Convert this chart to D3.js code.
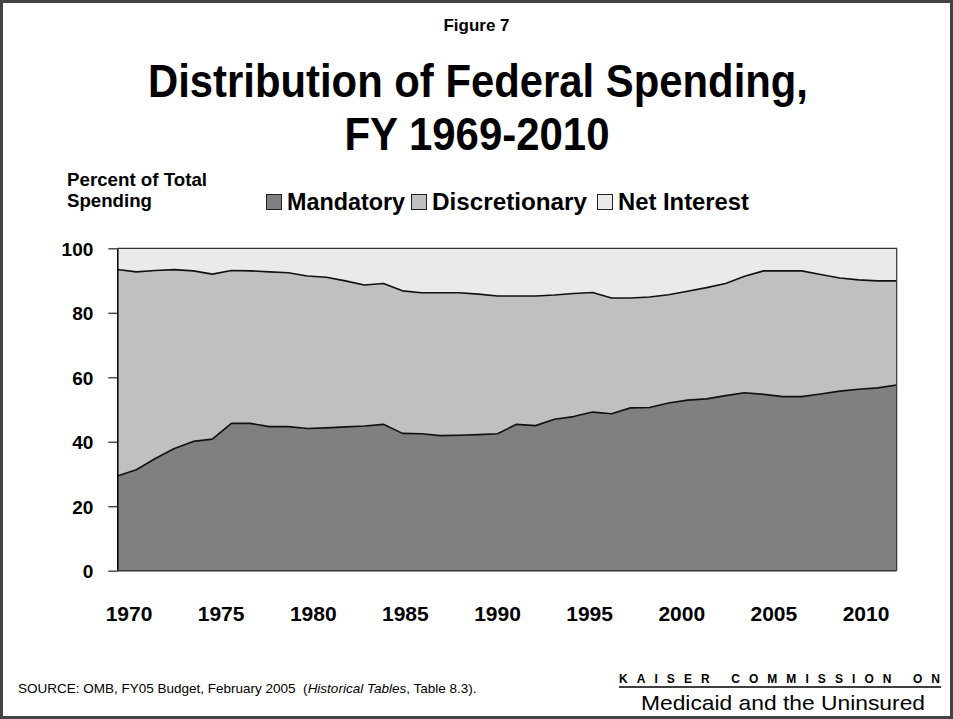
<!DOCTYPE html>
<html>
<head>
<meta charset="utf-8">
<script src="https://cdn.jsdelivr.net/npm/d3@7"></script>
<style>
  html, body { margin: 0; padding: 0; background: #fff; }
  svg { display: block; font-family: "Liberation Sans", Arial, sans-serif; }
  text { white-space: pre; }
</style>
</head>
<body>
<script>
// Fiscal years shown on the horizontal axis
const years = d3.range(1969, 2011);

// Share of total federal outlays (percent)
const mandatory = [
  29.4, 31.3, 34.8, 37.9, 40.1, 40.8, 45.7, 45.7, 44.7, 44.7,
  44.1, 44.3, 44.6, 44.9, 45.4, 42.6, 42.5, 41.9, 42.0, 42.2,
  42.5, 45.4, 45.0, 47.0, 47.8, 49.2, 48.7, 50.5, 50.6, 52.0,
  52.9, 53.3, 54.3, 55.2, 54.7, 54.0, 54.0, 54.8, 55.7, 56.3,
  56.7, 57.6
];
const discretionary = [
  64.0, 61.4, 58.3, 55.5, 52.9, 51.2, 47.4, 47.3, 48.0, 47.7,
  47.3, 46.7, 45.3, 43.7, 43.7, 44.2, 43.7, 44.3, 44.2, 43.6,
  42.7, 39.8, 40.2, 38.5, 38.2, 37.1, 35.9, 34.1, 34.3, 33.6,
  33.8, 34.5, 34.8, 36.1, 38.3, 39.0, 39.0, 37.1, 35.1, 33.9,
  33.2, 32.3
];
const netInterest = [
   6.6,  7.3,  6.9,  6.6,  7.0,  8.0,  6.9,  7.0,  7.3,  7.6,
   8.6,  9.0, 10.1, 11.4, 10.9, 13.2, 13.8, 13.8, 13.8, 14.2,
  14.8, 14.8, 14.8, 14.5, 14.0, 13.7, 15.4, 15.4, 15.1, 14.4,
  13.3, 12.2, 10.9,  8.7,  7.0,  7.0,  7.0,  8.1,  9.2,  9.8,
  10.1, 10.1
];

const seriesNames = ["Mandatory", "Discretionary", "Net Interest"];
const seriesColors = ["#808080", "#c0c0c0", "#eaeaea"];

// Category labels under the plot
const xTickLabels = ["1970", "1975", "1980", "1985", "1990", "1995", "2000", "2005", "2010"];
const yTickValues = [0, 20, 40, 60, 80, 100];

const W = 953, H = 719;
const plot = { left: 117.3, right: 896.7, top: 248.3, bottom: 570.7 };

const svg = d3.select("body").append("svg")
  .attr("width", W).attr("height", H);

// outer slide frame
svg.append("rect")
  .attr("x", 1.5).attr("y", 1.5)
  .attr("width", W - 3).attr("height", H - 3)
  .attr("fill", "#fff").attr("stroke", "#444").attr("stroke-width", 3);

// headings
svg.append("text")
  .attr("x", 476.5).attr("y", 31)
  .attr("text-anchor", "middle")
  .attr("font-weight", "bold").attr("font-size", 17)
  .attr("textLength", 66).attr("lengthAdjust", "spacingAndGlyphs")
  .text("Figure 7");
svg.append("text")
  .attr("x", 478).attr("y", 97)
  .attr("text-anchor", "middle")
  .attr("font-weight", "bold").attr("font-size", 47)
  .attr("textLength", 660).attr("lengthAdjust", "spacingAndGlyphs")
  .text("Distribution of Federal Spending,");
svg.append("text")
  .attr("x", 477).attr("y", 150)
  .attr("text-anchor", "middle")
  .attr("font-weight", "bold").attr("font-size", 47)
  .attr("textLength", 265).attr("lengthAdjust", "spacingAndGlyphs")
  .text("FY 1969-2010");

// y-axis caption
const cap = svg.append("text")
  .attr("font-weight", "bold").attr("font-size", 18);
cap.append("tspan").attr("x", 67).attr("y", 186)
  .attr("textLength", 140).attr("lengthAdjust", "spacingAndGlyphs")
  .text("Percent of Total");
cap.append("tspan").attr("x", 67).attr("y", 207)
  .attr("textLength", 85).attr("lengthAdjust", "spacingAndGlyphs")
  .text("Spending");

// scales
const x = d3.scaleLinear().domain([years[0], years[years.length - 1]])
  .range([plot.left, plot.right]);
const y = d3.scaleLinear().domain([0, 100]).range([plot.bottom, plot.top]);

const rows = years.map((yr, i) => ({
  year: yr,
  "Mandatory": mandatory[i],
  "Discretionary": discretionary[i],
  "Net Interest": netInterest[i]
}));
const stacked = d3.stack().keys(seriesNames)(rows);

const area = d3.area()
  .x(d => x(d.data.year))
  .y0(d => y(d[0]))
  .y1(d => y(d[1]));

svg.append("g").selectAll("path")
  .data(stacked)
  .join("path")
  .attr("d", area)
  .attr("fill", (d, i) => seriesColors[i]);

// boundary lines between the layers
const edge = d3.line()
  .x(d => x(d.data.year))
  .y(d => y(d[1]));
svg.append("g").selectAll("path")
  .data(stacked.slice(0, 2))
  .join("path")
  .attr("d", edge)
  .attr("fill", "none")
  .attr("stroke", "#111")
  .attr("stroke-width", 1.6)
  .attr("stroke-linejoin", "round");

// plot frame (top and right)
svg.append("path")
  .attr("d", d3.line()([[plot.left, plot.top], [plot.right, plot.top], [plot.right, plot.bottom]]))
  .attr("fill", "none").attr("stroke", "#333").attr("stroke-width", 1.2);

// y axis
const yAxis = svg.append("g")
  .attr("transform", `translate(${plot.left},0)`)
  .call(d3.axisLeft(y).tickValues(yTickValues).tickSize(9).tickPadding(15).tickSizeOuter(0));
yAxis.select(".domain").attr("stroke", "#000").attr("stroke-width", 1.5);
yAxis.selectAll(".tick line").attr("stroke", "#333").attr("stroke-width", 1.3);
yAxis.selectAll(".tick text")
  .attr("font-family", "Liberation Sans, Arial, sans-serif")
  .attr("font-weight", "bold").attr("font-size", 19).attr("fill", "#000")
  .attr("dy", "0.36em");

// x axis line
svg.append("path")
  .attr("d", d3.line()([[plot.left, plot.bottom], [plot.right, plot.bottom]]))
  .attr("stroke", "#333").attr("stroke-width", 1.5);

// x labels
const xl = d3.scalePoint().domain(xTickLabels).range([129, 866]);
svg.append("g").selectAll("text")
  .data(xTickLabels)
  .join("text")
  .attr("x", d => xl(d)).attr("y", 621)
  .attr("text-anchor", "middle")
  .attr("font-weight", "bold").attr("font-size", 21)
  .text(d => d);

// legend
const legendX = [266, 411, 597];
const legendW = [118, 155, 131];
const lg = svg.append("g").selectAll("g")
  .data(seriesNames)
  .join("g")
  .attr("transform", (d, i) => `translate(${legendX[i]},0)`);
lg.append("rect")
  .attr("x", 0.5).attr("y", 194.5).attr("width", 15).attr("height", 15)
  .attr("fill", (d, i) => seriesColors[i])
  .attr("stroke", "#222").attr("stroke-width", 1);
lg.append("text")
  .attr("x", 21).attr("y", 210)
  .attr("font-weight", "bold").attr("font-size", 24)
  .attr("textLength", (d, i) => legendW[i]).attr("lengthAdjust", "spacingAndGlyphs")
  .text(d => d);

// source note
const src = svg.append("text")
  .attr("x", 18).attr("y", 693)
  .attr("font-size", 13.5);
src.append("tspan").text("SOURCE: OMB, FY05 Budget, February 2005  (");
src.append("tspan").attr("font-style", "italic").text("Historical Tables");
src.append("tspan").text(", Table 8.3).");

// publisher mark
svg.append("text")
  .attr("x", 619).attr("y", 683)
  .attr("font-weight", "bold").attr("font-size", 12)
  .attr("textLength", 321).attr("lengthAdjust", "spacing")
  .text("KAISER COMMISSION ON");
svg.append("line")
  .attr("x1", 619).attr("x2", 941).attr("y1", 687).attr("y2", 687)
  .attr("stroke", "#000").attr("stroke-width", 1.5);
svg.append("text")
  .attr("x", 641).attr("y", 710)
  .attr("font-size", 21)
  .attr("textLength", 284).attr("lengthAdjust", "spacingAndGlyphs")
  .text("Medicaid and the Uninsured");
</script>
</body>
</html>
